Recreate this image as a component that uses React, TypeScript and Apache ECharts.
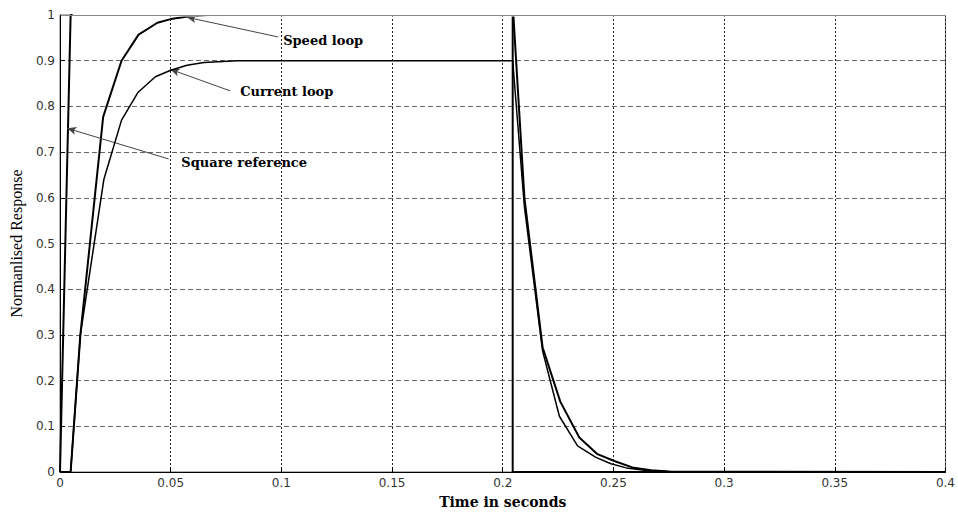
import React, { useEffect, useRef } from "react";
import * as echarts from "echarts";

// Square reference
const squareT = [0, 0.0048, 0.2045, 0.2045, 0.4];
const squareV = [0, 1, 1, 0, 0];

// Speed loop response
const speedT = [0, 0.0048, 0.0092, 0.0195, 0.0278, 0.0355, 0.044, 0.05, 0.057, 0.067, 0.2048, 0.2098, 0.218, 0.226, 0.2346, 0.2428, 0.2504, 0.2585, 0.267, 0.275, 0.4];
const speedV = [0, 0, 0.3, 0.777, 0.9, 0.957, 0.983, 0.991, 0.996, 1.0, 1.0, 0.6, 0.273, 0.154, 0.0756, 0.039, 0.024, 0.01, 0.004, 0.001, 0];

// Current loop response
const currentT = [0, 0.0048, 0.0092, 0.0198, 0.0278, 0.0353, 0.0431, 0.05, 0.0574, 0.065, 0.08, 0.2045, 0.2098, 0.218, 0.2256, 0.2338, 0.2421, 0.2489, 0.2558, 0.265, 0.28, 0.4];
const currentV = [0, 0, 0.3, 0.64, 0.77, 0.831, 0.865, 0.879, 0.89, 0.896, 0.9, 0.9, 0.58, 0.265, 0.122, 0.057, 0.032, 0.018, 0.009, 0.003, 0, 0];

// Annotations (data coordinates)
const annoLabels = ["Speed loop", "Current loop", "Square reference"];
const annoTip = [[0.0574, 0.995], [0.0499, 0.881], [0.0033, 0.752]];
const annoTail = [[0.0985, 0.952], [0.0769, 0.834], [0.0491, 0.685]];
const annoText = [[0.1008, 0.944], [0.0814, 0.8316], [0.0548, 0.678]];

const xTitle = "Time in seconds";
const yTitle = "Normanlised Response";

const zip = (t: number[], v: number[]) => t.map((x, i) => [x, v[i]]);

export default function App() {
  const ref = useRef<HTMLDivElement>(null);
  useEffect(() => {
    if (!ref.current) return;
    const chart = echarts.init(ref.current, undefined, { renderer: "svg" });
    const tickFont = { fontFamily: "DejaVu Sans", fontSize: 12, color: "#333" };
    chart.setOption({
      animation: false,
      backgroundColor: "#fff",
      grid: { left: 59, right: 10, top: 15, bottom: 36, show: true, borderColor: "#666", borderWidth: 1 },
      xAxis: {
        type: "value",
        min: 0,
        max: 0.4,
        interval: 0.05,
        name: xTitle,
        nameLocation: "middle",
        nameGap: 23,
        nameTextStyle: { fontFamily: "DejaVu Serif", fontWeight: "bold", fontSize: 14, color: "#000" },
        axisLine: { show: true, onZero: false, lineStyle: { color: "#000", width: 1 } },
        axisTick: { show: true, inside: true, length: 5, lineStyle: { color: "#000" } },
        axisLabel: { ...tickFont, margin: 5 },
        splitLine: { show: true, lineStyle: { color: "#222", type: [2, 2], width: 1 } },
      },
      yAxis: {
        type: "value",
        min: 0,
        max: 1,
        interval: 0.1,
        name: yTitle,
        nameLocation: "middle",
        nameGap: 36,
        nameTextStyle: { fontFamily: "Liberation Serif", fontSize: 16, color: "#000" },
        axisLine: { show: true, onZero: false, lineStyle: { color: "#000", width: 1 } },
        axisTick: { show: true, inside: true, length: 5, lineStyle: { color: "#000" } },
        axisLabel: { ...tickFont, margin: 5 },
        splitLine: { show: true, lineStyle: { color: "#666", type: [5, 3], width: 1 } },
      },
      series: [
        {
          name: "Square reference",
          type: "line",
          data: zip(squareT, squareV),
          symbol: "none",
          lineStyle: { color: "#000", width: 2 },
          z: 3,
          markLine: {
            silent: true,
            symbol: ["none", "arrow"],
            symbolSize: [6, 9],
            lineStyle: { color: "#444", width: 1, type: "solid" },
            label: { show: false },
            data: annoTip.map((tip, i) => [
              { coord: annoTail[i] },
              { coord: tip },
            ]),
          },
          markPoint: {
            silent: true,
            symbol: "circle",
            symbolSize: 0,
            data: annoText.map((c, i) => ({
              coord: c,
              name: annoLabels[i],
              label: {
                show: true,
                position: "right",
                distance: 0,
                formatter: annoLabels[i],
                fontFamily: "DejaVu Serif",
                fontWeight: "bold",
                fontSize: 13,
                color: "#000",
              },
            })),
          },
        },
        {
          name: "Speed loop",
          type: "line",
          data: zip(speedT, speedV),
          symbol: "none",
          lineStyle: { color: "#000", width: 2 },
          z: 4,
        },
        {
          name: "Current loop",
          type: "line",
          data: zip(currentT, currentV),
          symbol: "none",
          lineStyle: { color: "#000", width: 1.5 },
          z: 5,
        },
      ],
    });
    // Redraw the top edge of the axes box over the curves (as in the original, the box hides y = 1)
    const a = chart.convertToPixel({ gridIndex: 0 }, [0.0048, 1]) as number[];
    const b = chart.convertToPixel({ gridIndex: 0 }, [0.4, 1]) as number[];
    chart.setOption({
      graphic: [
        {
          type: "rect",
          z: 100,
          silent: true,
          shape: { x: a[0] + 2, y: a[1] - 2, width: b[0] - a[0] - 2, height: 3.5 },
          style: { fill: "#fff" },
        },
        {
          type: "line",
          z: 101,
          silent: true,
          shape: { x1: a[0] - 10, y1: a[1] + 0.5, x2: b[0] + 0.5, y2: b[1] + 0.5 },
          style: { stroke: "#888", lineWidth: 1 },
        },
      ],
    });
    return () => chart.dispose();
  }, []);
  return (
    <div
      ref={ref}
      style={{ position: "fixed", left: 0, top: 0, width: 958, height: 514, background: "#fff" }}
    />
  );
}
